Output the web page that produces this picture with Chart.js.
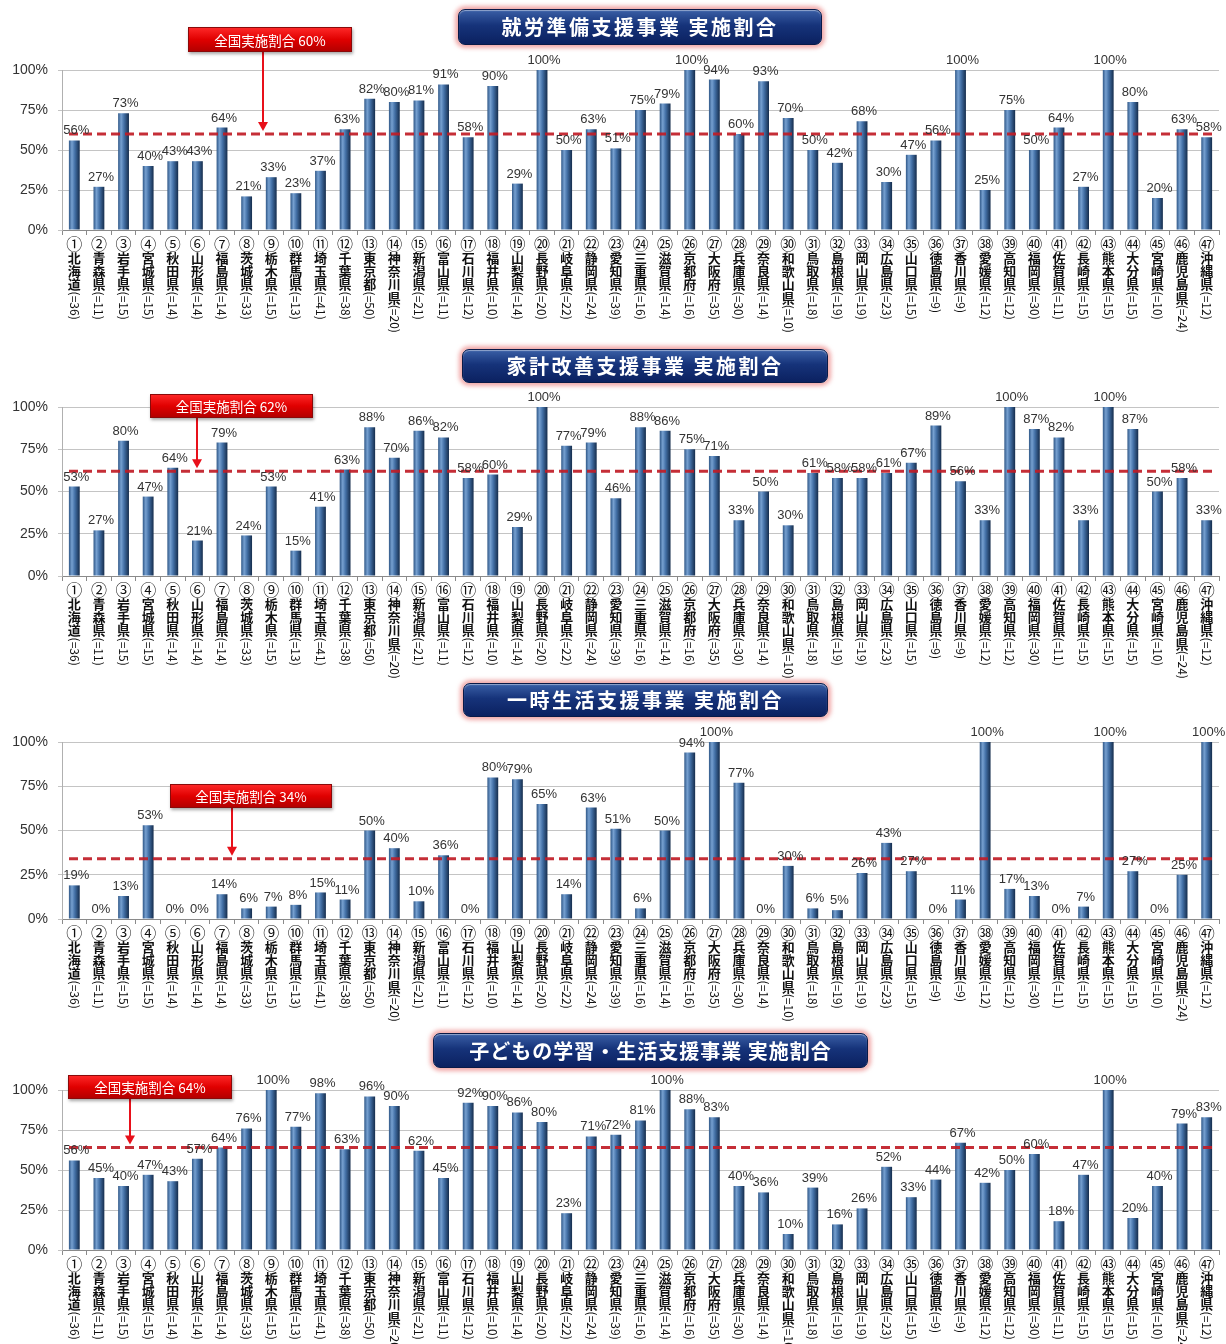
<!DOCTYPE html>
<html lang="ja">
<head>
<meta charset="utf-8">
<title>生活困窮者自立支援制度 任意事業 実施割合</title>
<script src="https://cdn.jsdelivr.net/npm/chart.js@4.4.1/dist/chart.umd.min.js"></script>
<style>
  html, body { margin:0; padding:0; background:#fff; }
  #page { position:relative; width:1226px; height:1344px; overflow:hidden; }
  canvas { position:absolute; left:0; }
  .banner {
    position:absolute; box-sizing:border-box; border-radius:7px;
    background:linear-gradient(#3a5fa6 0%, #16337a 45%, #0b2160 100%);
    border:1px solid #091a48;
    box-shadow:0 0 4px 3px rgba(236,140,140,0.75), inset 0 1px 1px rgba(255,255,255,0.45);
    color:#fff; font-family:"Noto Sans CJK JP","Noto Sans",sans-serif; font-weight:700;
    font-size:20px; letter-spacing:2.5px; text-align:center; white-space:nowrap; z-index:5;
  }
</style>
</head>
<body>
<div id="page">
  <div class="banner" id="b0" style="left:458px;top:9px;width:364px;height:36px;line-height:34px;"></div>
  <div class="banner" id="b1" style="left:462px;top:349px;width:366px;height:34px;line-height:32px;"></div>
  <div class="banner" id="b2" style="left:463px;top:683px;width:365px;height:34px;line-height:32px;"></div>
  <div class="banner" id="b3" style="left:433px;top:1033px;width:435px;height:35px;line-height:33px;letter-spacing:1px;"></div>
  <canvas id="c0" width="1226" height="320" style="top:20px"></canvas>
  <canvas id="c1" width="1226" height="295" style="top:387px"></canvas>
  <canvas id="c2" width="1226" height="300" style="top:722px"></canvas>
  <canvas id="c3" width="1226" height="274" style="top:1070px"></canvas>
</div>
<script>
// ---------------- DATA ----------------
const chartTitles = [
  "就労準備支援事業 実施割合",
  "家計改善支援事業 実施割合",
  "一時生活支援事業 実施割合",
  "子どもの学習・生活支援事業 実施割合"
];
const circledNumbers = ["①","②","③","④","⑤","⑥","⑦","⑧","⑨","⑩","⑪","⑫","⑬","⑭","⑮","⑯","⑰","⑱","⑲","⑳",
  "㉑","㉒","㉓","㉔","㉕","㉖","㉗","㉘","㉙","㉚","㉛","㉜","㉝","㉞","㉟","㊱","㊲","㊳","㊴","㊵","㊶","㊷","㊸","㊹","㊺","㊻","㊼"];
const prefNames = ["北海道","青森県","岩手県","宮城県","秋田県","山形県","福島県","茨城県","栃木県","群馬県",
  "埼玉県","千葉県","東京都","神奈川県","新潟県","富山県","石川県","福井県","山梨県","長野県",
  "岐阜県","静岡県","愛知県","三重県","滋賀県","京都府","大阪府","兵庫県","奈良県","和歌山県",
  "鳥取県","島根県","岡山県","広島県","山口県","徳島県","香川県","愛媛県","高知県","福岡県",
  "佐賀県","長崎県","熊本県","大分県","宮崎県","鹿児島県","沖縄県"];
const sampleN = [36,11,15,15,14,14,14,33,15,13,41,38,50,20,21,11,12,10,14,20,22,24,39,16,14,16,35,30,14,10,
  18,19,19,23,15,9,9,12,12,30,11,15,15,15,10,24,12];

const employmentPrep = [56,27,73,40,43,43,64,21,33,23,37,63,82,80,81,91,58,90,29,100,50,63,51,75,79,100,94,60,93,70,
  50,42,68,30,47,56,100,25,75,50,64,27,100,80,20,63,58];
const householdBudget = [53,27,80,47,64,21,79,24,53,15,41,63,88,70,86,82,58,60,29,100,77,79,46,88,86,75,71,33,50,30,
  61,58,58,61,67,89,56,33,100,87,82,33,100,87,50,58,33];
const temporaryLiving = [19,0,13,53,0,0,14,6,7,8,15,11,50,40,10,36,0,80,79,65,14,63,51,6,50,94,100,77,0,30,
  6,5,26,43,27,0,11,100,17,13,0,7,100,27,0,25,100];
const childLearning = [56,45,40,47,43,57,64,76,100,77,98,63,96,90,62,45,92,90,86,80,23,71,72,81,100,88,83,40,36,10,
  39,16,26,52,33,44,67,42,50,60,18,47,100,20,40,79,83];
const nationalRates = [60,62,34,64];
const yTicks = [0,25,50,75,100];

// ---------------- STYLE / LAYOUT ----------------
const seriesList = [employmentPrep, householdBudget, temporaryLiving, childLearning];
const layouts = [
  {padTop:50, xHeight:110, box:{x:188,y:7,w:164,h:25}, arrowX:263},
  {padTop:20, xHeight:106, box:{x:150,y:7,w:163,h:24}, arrowX:197},
  {padTop:20, xHeight:103, box:{x:170,y:62,w:162,h:24}, arrowX:232},
  {padTop:20, xHeight:94,  box:{x:68,y:5,w:164,h:24},  arrowX:130}
];
const JP = '"Noto Sans CJK JP","Noto Sans",sans-serif';
const NUMF = '"Liberation Sans","DejaVu Sans",sans-serif';

chartTitles.forEach((t,i)=>{ document.getElementById('b'+i).textContent = t; });

function barGradient(context){
  const chart = context.chart;
  const xs = chart.scales && chart.scales.x;
  if (!chart.chartArea || !xs) return '#3b679a';
  const cx = xs.getPixelForValue(context.dataIndex);
  const half = 5.5;
  const g = chart.ctx.createLinearGradient(cx-half,0,cx+half,0);
  g.addColorStop(0,'#2d5585');
  g.addColorStop(0.28,'#76a0d0');
  g.addColorStop(0.55,'#4370a6');
  g.addColorStop(1,'#142b4a');
  return g;
}

const valueLabels = {
  id:'valueLabels',
  afterDatasetsDraw(chart){
    const {ctx} = chart;
    const meta = chart.getDatasetMeta(0);
    const data = chart.data.datasets[0].data;
    ctx.save();
    ctx.font = '13px '+NUMF;
    ctx.fillStyle = '#333';
    ctx.textAlign = 'center';
    ctx.textBaseline = 'bottom';
    meta.data.forEach((el,i)=>{ ctx.fillText(data[i]+'%', el.x+2, el.y-3); });
    ctx.restore();
  }
};

const avgLine = {
  id:'avgLine',
  afterDatasetsDraw(chart, args, opts){
    const {ctx, chartArea, scales:{y}} = chart;
    const py = y.getPixelForValue(opts.value);
    ctx.save();
    ctx.strokeStyle = 'rgba(192,28,38,0.92)';
    ctx.lineWidth = 3;
    ctx.setLineDash([9,5]);
    ctx.beginPath();
    ctx.moveTo(chartArea.left+7, py);
    ctx.lineTo(chartArea.right-6, py);
    ctx.stroke();
    ctx.restore();
  }
};

const callout = {
  id:'callout',
  afterDraw(chart, args, opts){
    const {ctx, scales:{y}} = chart;
    const b = opts.box;
    const tipY = y.getPixelForValue(opts.value) - 3;
    ctx.save();
    ctx.strokeStyle = '#e8101a';
    ctx.fillStyle = '#e8101a';
    ctx.lineWidth = 2;
    ctx.beginPath();
    ctx.moveTo(opts.arrowX, b.y+b.h);
    ctx.lineTo(opts.arrowX, tipY-8);
    ctx.stroke();
    ctx.beginPath();
    ctx.moveTo(opts.arrowX-5, tipY-9);
    ctx.lineTo(opts.arrowX+5, tipY-9);
    ctx.lineTo(opts.arrowX, tipY);
    ctx.closePath();
    ctx.fill();
    ctx.shadowColor = 'rgba(0,0,0,0.35)';
    ctx.shadowBlur = 3; ctx.shadowOffsetX = 1; ctx.shadowOffsetY = 2;
    const g = ctx.createLinearGradient(0,b.y,0,b.y+b.h);
    g.addColorStop(0,'#ff2a2a'); g.addColorStop(0.5,'#e00000'); g.addColorStop(1,'#b00000');
    ctx.fillStyle = g;
    ctx.fillRect(b.x,b.y,b.w,b.h);
    ctx.shadowColor = 'transparent';
    ctx.strokeStyle = '#8a0a0a'; ctx.lineWidth = 1;
    ctx.strokeRect(b.x+0.5,b.y+0.5,b.w-1,b.h-1);
    ctx.fillStyle = '#fff';
    ctx.font = '13.5px '+JP;
    ctx.textAlign = 'center'; ctx.textBaseline = 'middle';
    ctx.fillText(opts.text, b.x+b.w/2, b.y+b.h/2+1);
    ctx.restore();
  }
};

const prefLabels = {
  id:'prefLabels',
  afterDraw(chart){
    const {ctx, chartArea, scales:{x}} = chart;
    ctx.save();
    ctx.fillStyle = '#111';
    ctx.textAlign = 'center';
    ctx.textBaseline = 'middle';
    prefNames.forEach((name,i)=>{
      const px = x.getPixelForValue(i);
      let py = chartArea.bottom + 14;
      ctx.font = '16px '+JP;
      ctx.fillText(circledNumbers[i], px, py);
      py += 14;
      ctx.font = 'bold 13px '+JP;
      for (const ch of name){ ctx.fillText(ch, px, py); py += 13.2; }
      ctx.save();
      ctx.translate(px, py-6);
      ctx.rotate(Math.PI/2);
      ctx.textAlign = 'left';
      ctx.font = '12px '+JP;
      ctx.fillText('(='+sampleN[i]+')', 0, 0);
      ctx.restore();
    });
    ctx.restore();
  }
};

seriesList.forEach((series, k)=>{
  const L = layouts[k];
  new Chart(document.getElementById('c'+k), {
    type:'bar',
    data:{
      labels: prefNames,
      datasets:[{
        data: series,
        backgroundColor: barGradient,
        borderWidth: 0,
        barPercentage: 0.44,
        categoryPercentage: 1.0
      }]
    },
    options:{
      responsive:false,
      animation:false,
      layout:{ padding:{ top:L.padTop, left:0, right:7, bottom:0 } },
      plugins:{
        legend:{display:false},
        tooltip:{enabled:false},
        avgLine:{ value:nationalRates[k] },
        callout:{ value:nationalRates[k], box:L.box, arrowX:L.arrowX, text:'全国実施割合 '+nationalRates[k]+'%' }
      },
      scales:{
        x:{
          afterFit(scale){ scale.height = L.xHeight; },
          ticks:{ display:false },
          grid:{ display:true, drawOnChartArea:false, drawTicks:true, tickLength:5, color:'#8a8a8a' },
          border:{ display:true, color:'#8a8a8a' }
        },
        y:{
          min:0, max:100,
          afterFit(scale){ scale.width = 62; },
          afterBuildTicks(scale){ scale.ticks = yTicks.map(v=>({value:v})); },
          ticks:{ callback:v=>v+'%', font:{size:14, family:NUMF}, color:'#333', padding:10 },
          grid:{ color:'#c4c4c4', lineWidth:1, tickLength:4, drawTicks:true },
          border:{ display:true, color:'#b0b0b0' }
        }
      }
    },
    plugins:[avgLine, valueLabels, prefLabels, callout]
  });
});
</script>
</body>
</html>
